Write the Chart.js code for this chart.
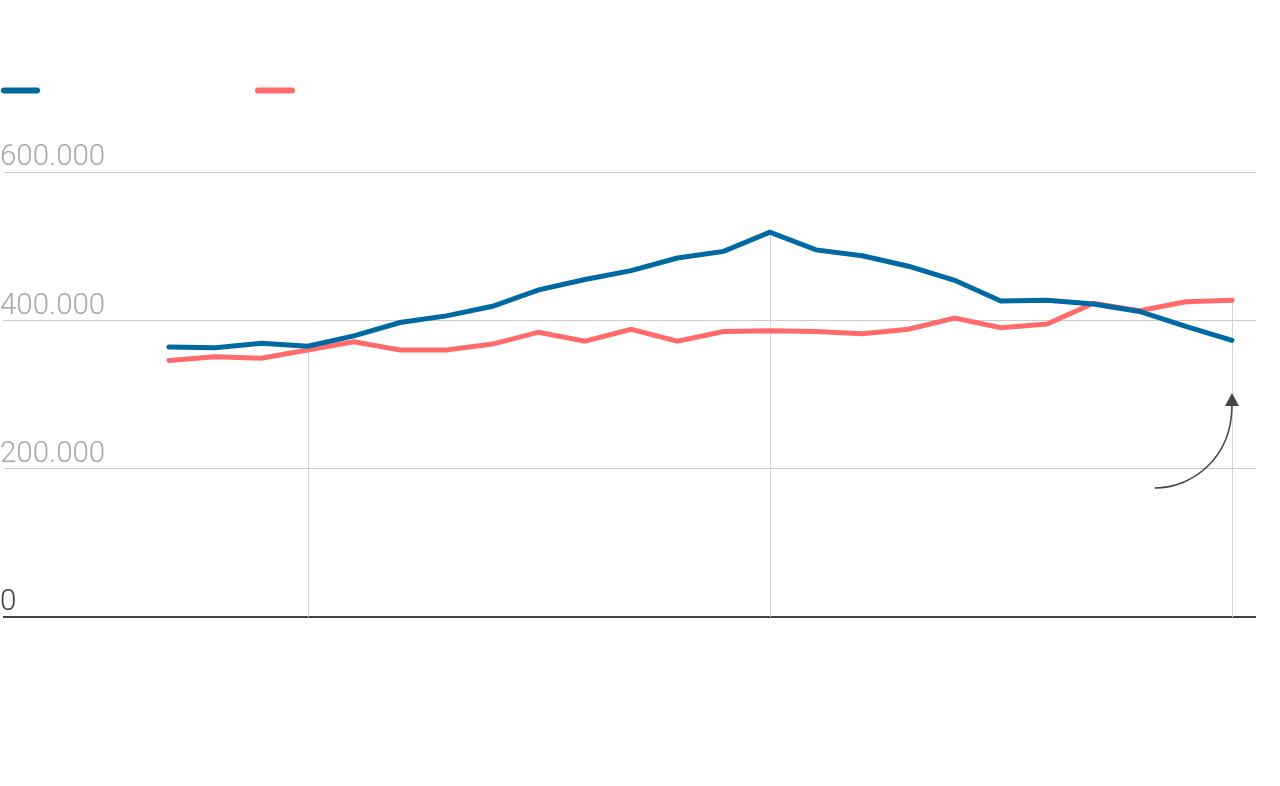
<!DOCTYPE html>
<html>
<head>
<meta charset="utf-8">
<script src="https://cdn.jsdelivr.net/npm/chart.js@4/dist/chart.umd.min.js"></script>
<style>
  html, body { margin: 0; padding: 0; background: #ffffff; }
  #wrap { width: 1280px; height: 786px; }
</style>
</head>
<body>
<div id="wrap"><canvas id="c" width="1280" height="786"></canvas></div>
<script>
// ---- data ----
const years = [1997, 1998, 1999, 2000, 2001, 2002, 2003, 2004, 2005, 2006, 2007, 2008,
               2009, 2010, 2011, 2012, 2013, 2014, 2015, 2016, 2017, 2018, 2019, 2020];
const blueValues = [364000, 363000, 369000, 365000, 379000, 397000, 406000, 419000, 441000, 455000, 467000, 484000,
                    493000, 519000, 495000, 487000, 473000, 454000, 426000, 427000, 422000, 412000, 392000, 373000];
const redValues  = [346000, 351000, 349000, 360000, 371000, 360000, 360000, 368000, 384000, 372000, 388000, 372000,
                    385000, 386000, 385000, 382000, 388000, 403000, 390000, 395000, 423000, 413000, 425000, 427000];
const seriesLabels = ['', ''];
const yTicks = [0, 200000, 400000, 600000];
const dropYears = [2000, 2010, 2020];
// annotation arrow (data units)
const arrowStart = { x: 2018.33, y: 174000 };
const arrowTip = { x: 2020, y: 302000 };

const BLUE = '#0069a1';
const RED = '#ff6b6b';

function fmt(v) {
  return String(v).replace(/\B(?=(\d{3})+(?!\d))/g, '.');
}

const dropLinesPlugin = {
  id: 'dropLines',
  beforeDatasetsDraw(chart) {
    const { ctx, scales: { x, y } } = chart;
    ctx.save();
    ctx.strokeStyle = '#d4d4d4';
    ctx.lineWidth = 1;
    dropYears.forEach(yr => {
      const i = years.indexOf(yr);
      if (i < 0) return;
      const top = Math.max(blueValues[i], redValues[i]);
      const px = Math.round(x.getPixelForValue(yr)) + 0.5;
      ctx.beginPath();
      ctx.moveTo(px, y.getPixelForValue(top));
      ctx.lineTo(px, y.getPixelForValue(0));
      ctx.stroke();
    });
    ctx.restore();
  }
};

const legendPlugin = {
  id: 'swatchLegend',
  afterDraw(chart) {
    const { ctx } = chart;
    const items = [
      { color: chart.data.datasets[0].borderColor, x0: 4, x1: 37 },
      { color: chart.data.datasets[1].borderColor, x0: 258, x1: 292 }
    ];
    ctx.save();
    ctx.lineWidth = 6;
    ctx.lineCap = 'round';
    items.forEach(it => {
      ctx.strokeStyle = it.color;
      ctx.beginPath();
      ctx.moveTo(it.x0, 90.5);
      ctx.lineTo(it.x1, 90.5);
      ctx.stroke();
    });
    ctx.restore();
  }
};

const arrowPlugin = {
  id: 'arrow',
  afterDatasetsDraw(chart) {
    const { ctx, scales: { x, y } } = chart;
    const sx = x.getPixelForValue(arrowStart.x), sy = y.getPixelForValue(arrowStart.y);
    const tx = x.getPixelForValue(arrowTip.x), ty = y.getPixelForValue(arrowTip.y);
    const headH = 13, headW = 7;
    const by = ty + headH;
    ctx.save();
    ctx.strokeStyle = '#444';
    ctx.fillStyle = '#444';
    ctx.lineWidth = 1.5;
    ctx.beginPath();
    ctx.moveTo(sx, sy);
    ctx.bezierCurveTo(sx + 38, sy, tx, sy - 30, tx, by - 1);
    ctx.stroke();
    ctx.beginPath();
    ctx.moveTo(tx, ty);
    ctx.lineTo(tx + headW, by);
    ctx.lineTo(tx - headW, by);
    ctx.closePath();
    ctx.fill();
    ctx.restore();
  }
};

new Chart(document.getElementById('c'), {
  type: 'line',
  data: {
    datasets: [
      {
        label: seriesLabels[0],
        data: years.map((yr, i) => ({ x: yr, y: blueValues[i] })),
        borderColor: BLUE,
        borderWidth: 5,
        borderCapStyle: 'round',
        pointRadius: 0,
        tension: 0,
        fill: false
      },
      {
        label: seriesLabels[1],
        data: years.map((yr, i) => ({ x: yr, y: redValues[i] })),
        borderColor: RED,
        borderWidth: 5,
        borderCapStyle: 'round',
        pointRadius: 0,
        tension: 0,
        fill: false
      }
    ]
  },
  options: {
    responsive: false,
    animation: false,
    devicePixelRatio: 1,
    layout: { padding: { top: 172, bottom: 169, left: 3, right: 24 } },
    plugins: {
      legend: { display: false },
      tooltip: { enabled: false },
      title: { display: false }
    },
    scales: {
      x: {
        type: 'linear',
        display: false,
        min: 1993.408,
        max: 2020.52
      },
      y: {
        min: 0,
        max: 600000,
        afterFit(scale) { scale.width = 0; },
        afterBuildTicks(scale) { scale.ticks = yTicks.map(v => ({ value: v })); },
        border: { display: false },
        grid: {
          drawTicks: false,
          color: c => (c.tick && c.tick.value === 0) ? '#444444' : '#cccccc',
          lineWidth: c => (c.tick && c.tick.value === 0) ? 2 : 1
        },
        ticks: {
          mirror: true,
          padding: -3,
          labelOffset: -14,
          font: { family: 'Roboto', weight: '300', size: 29.5 },
          color: c => (c.tick && c.tick.value === 0) ? '#444444' : '#a8a8a8',
          callback: v => fmt(v)
        }
      }
    }
  },
  plugins: [dropLinesPlugin, arrowPlugin, legendPlugin]
});
</script>
</body>
</html>
